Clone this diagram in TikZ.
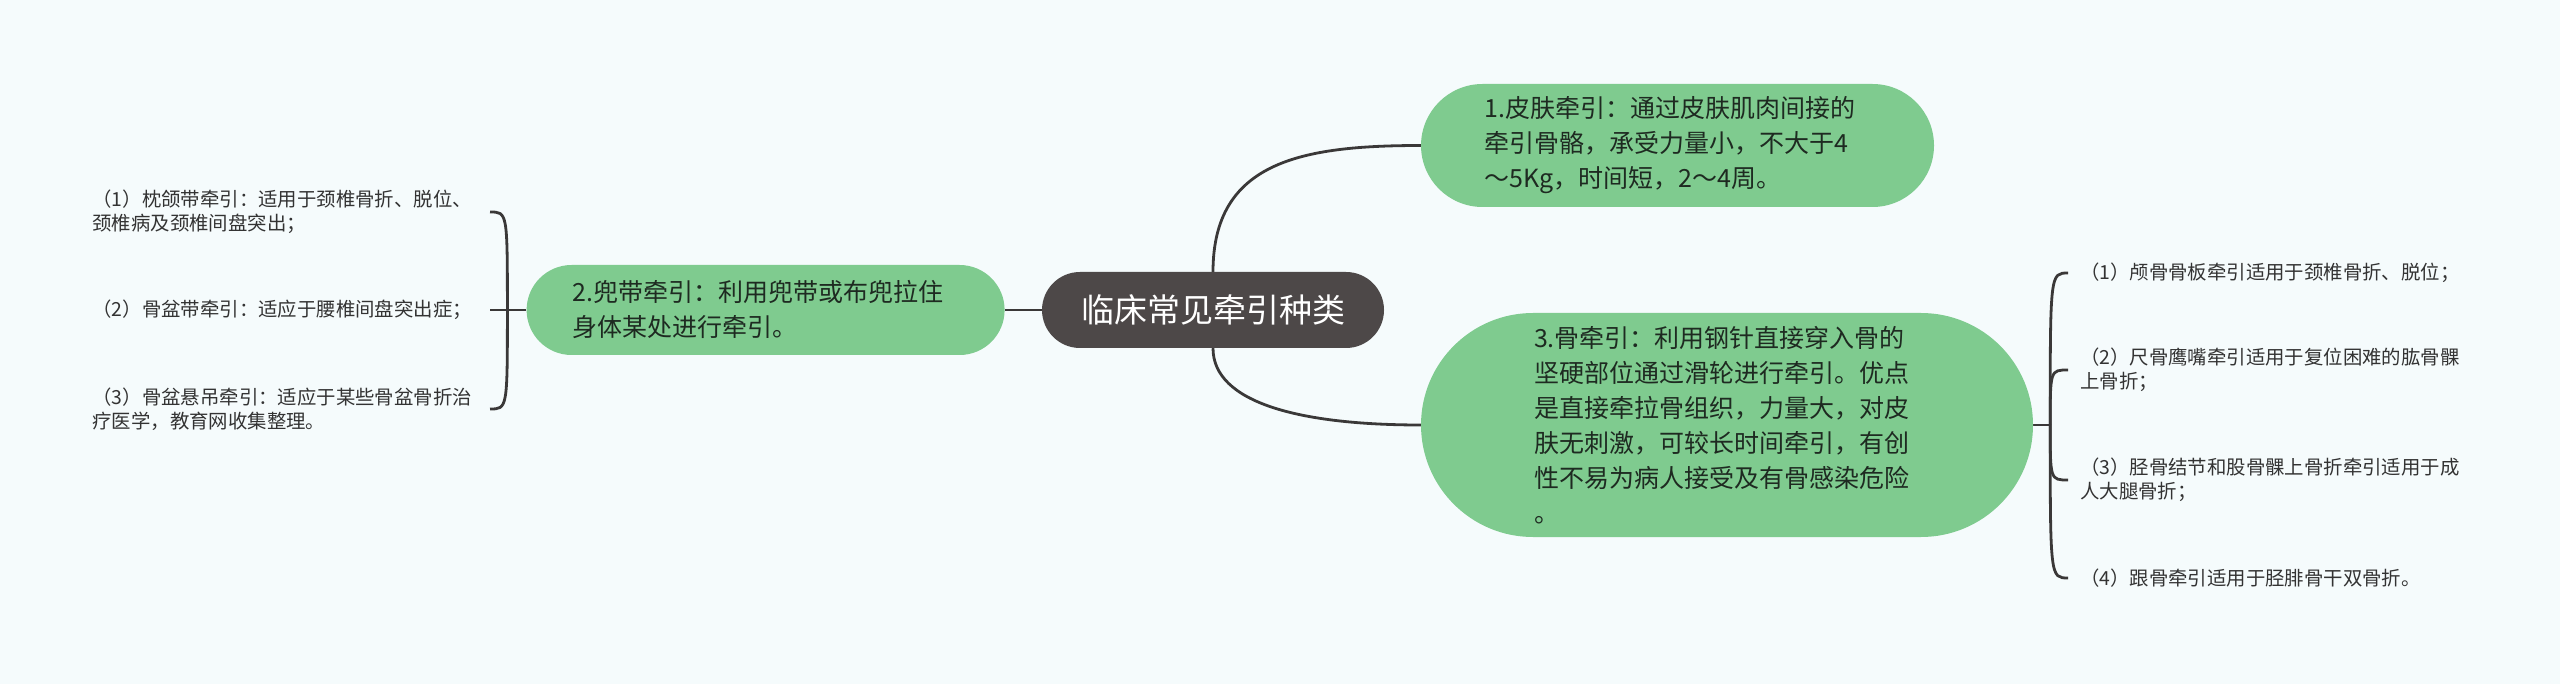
\documentclass[tikz,border=0pt]{standalone}
\usepackage{fontspec}
\setmainfont{Noto Sans CJK SC}
\usetikzlibrary{positioning,backgrounds}

\definecolor{bgblue}{HTML}{F5FBFC}
\definecolor{rootgray}{HTML}{4D4848}
\definecolor{subgreen}{HTML}{7FCB8F}
\definecolor{linkgray}{HTML}{3A3838}
\definecolor{inkdark}{HTML}{1E2A21}
\definecolor{inkleaf}{HTML}{333333}

\begin{document}
\begin{tikzpicture}[
    x=1pt, y=-1pt,
    topic/.style={fill=rootgray, text=white, align=center, inner sep=0pt, minimum width=342pt, minimum height=76pt, rounded corners=38pt, font=\fontsize{33}{40}\selectfont},
    sub/.style={fill=subgreen, text=inkdark, align=left, text width=386pt, inner ysep=0pt, font=\fontsize{25}{35}\selectfont},
    leafL/.style={anchor=east, text=inkleaf, align=left, inner xsep=18pt, inner ysep=0pt, font=\fontsize{19.4}{24}\selectfont},
    leafR/.style={anchor=west, text=inkleaf, align=left, inner xsep=12pt, inner ysep=0pt, font=\fontsize{19.4}{24}\selectfont},
    link/.style={draw=linkgray, line width=2.8pt}
]
\useasboundingbox (0,0) rectangle (2560,684);

% Central topic
\node[topic] (root) at (1213,310) {临床常见牵引种类};

% Main branches
\node[sub, left=37pt of root, inner xsep=46pt, minimum height=90pt, rounded corners=45pt] (n2) {2.兜带牵引：利用兜带或布兜拉住\\身体某处进行牵引。};
\node[sub, inner xsep=63.5pt, minimum height=123pt, rounded corners=61.5pt] (n1) at (1677.5,145.5) {1.皮肤牵引：通过皮肤肌肉间接的\\牵引骨骼，承受力量小，不大于4\\～5Kg，时间短，2～4周。};
\node[sub, inner xsep=113pt, minimum height=224pt, rounded corners=112pt] (n3) at (1727,425) {3.骨牵引：利用钢针直接穿入骨的\\坚硬部位通过滑轮进行牵引。优点\\是直接牵拉骨组织，力量大，对皮\\肤无刺激，可较长时间牵引，有创\\性不易为病人接受及有骨感染危险\\。};

% Left details
\node[leafL] (l1) at (490,212) {（1）枕颌带牵引：适用于颈椎骨折、脱位、\\颈椎病及颈椎间盘突出；};
\node[leafL] (l2) at (490,310) {（2）骨盆带牵引：适应于腰椎间盘突出症；};
\node[leafL] (l3) at (490,409) {（3）骨盆悬吊牵引：适应于某些骨盆骨折治\\疗医学，教育网收集整理。};

% Right details
\node[leafR] (r1) at (2068,273) {（1）颅骨骨板牵引适用于颈椎骨折、脱位；};
\node[leafR] (r2) at (2068,370) {（2）尺骨鹰嘴牵引适用于复位困难的肱骨髁\\上骨折；};
\node[leafR] (r3) at (2068,480) {（3）胫骨结节和股骨髁上骨折牵引适用于成\\人大腿骨折；};
\node[leafR] (r4) at (2068,578) {（4）跟骨牵引适用于胫腓骨干双骨折。};

\coordinate (jl) at ([xshift=-19pt]n2.west);
\coordinate (jr) at ([xshift=17pt]n3.east);

\begin{scope}[on background layer]
  \fill[bgblue] (0,0) rectangle (2560,684);

  % Topic links
  \draw[link] (root.west) -- (n2.east);
  \draw[link] (root.north) .. controls +(0,-110) and +(-120,0) .. (n1.west);
  \draw[link] (root.south) .. controls +(0,55) and +(-120,0) .. (n3.west);

  % Brace on the left
  \draw[link] (n2.west) -- (l2.east);
  \draw[link] (jl) .. controls (jl |- l1.east) .. (l1.east);
  \draw[link] (jl) .. controls (jl |- l3.east) .. (l3.east);

  % Brace on the right
  \draw[link] (n3.east) -- (jr);
  \foreach \i in {1,...,4}
    \draw[link] (jr) .. controls (jr |- r\i.west) .. (r\i.west);
\end{scope}

\end{tikzpicture}
\end{document}
